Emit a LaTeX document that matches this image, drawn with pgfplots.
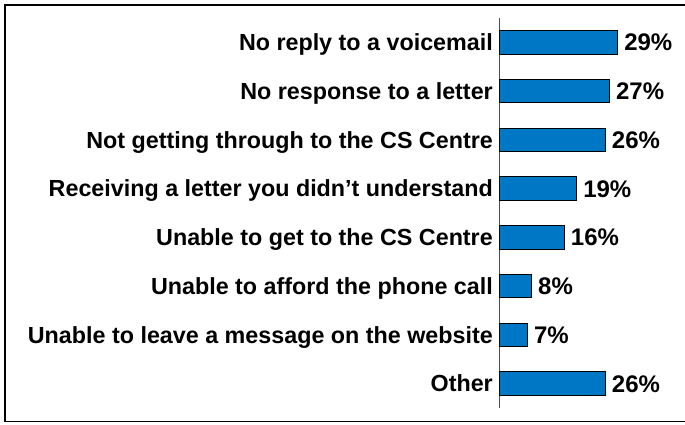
\documentclass[border=0pt]{standalone}
\usepackage{fontspec}
\setmainfont{Liberation Sans}
\usepackage{pgfplots}
\pgfplotsset{compat=1.18}
\definecolor{barblue}{HTML}{0077C4}

\begin{document}
\begin{tikzpicture}[x=1pt,y=1pt]
\useasboundingbox (0,0) rectangle (685,424);
\draw[line width=1.5pt] (5,2.3) rectangle (700,419);
\begin{axis}[
    at={(499pt,16pt)}, anchor=south west,
    width=164pt, height=390pt, scale only axis,
    xbar, bar width=23.5pt,
    xmin=0, xmax=40, ymin=-0.5, ymax=7.5, y dir=reverse,
    axis x line=none, axis y line*=left,
    y axis line style={-, draw=gray!60!black, line width=1pt},
    ytick={0,...,7}, major tick length=0pt,
    yticklabels={No reply to a voicemail, No response to a letter, Not getting through to the CS Centre, Receiving a letter you didn’t understand, Unable to get to the CS Centre, Unable to afford the phone call, Unable to leave a message on the website, Other},
    yticklabel style={font=\fontsize{23.3}{26}\selectfont\bfseries, anchor=base east, inner sep=0pt, xshift=-6pt, yshift=-8.3pt},
    /pgf/number format/assume math mode=true,
    point meta=x,
    nodes near coords={\pgfmathprintnumber{\pgfplotspointmeta}\%},
    nodes near coords style={font=\fontsize{24}{27}\selectfont\bfseries, anchor=base west, inner sep=0pt, xshift=6pt, yshift=-8.6pt, text=black},
    clip=false,
]
\addplot[fill=barblue, draw=black, line width=0.8pt] coordinates {(29,0) (27,1) (26,2) (19,3) (16,4) (8,5) (7,6) (26,7)};
\end{axis}
\end{tikzpicture}
\end{document}
